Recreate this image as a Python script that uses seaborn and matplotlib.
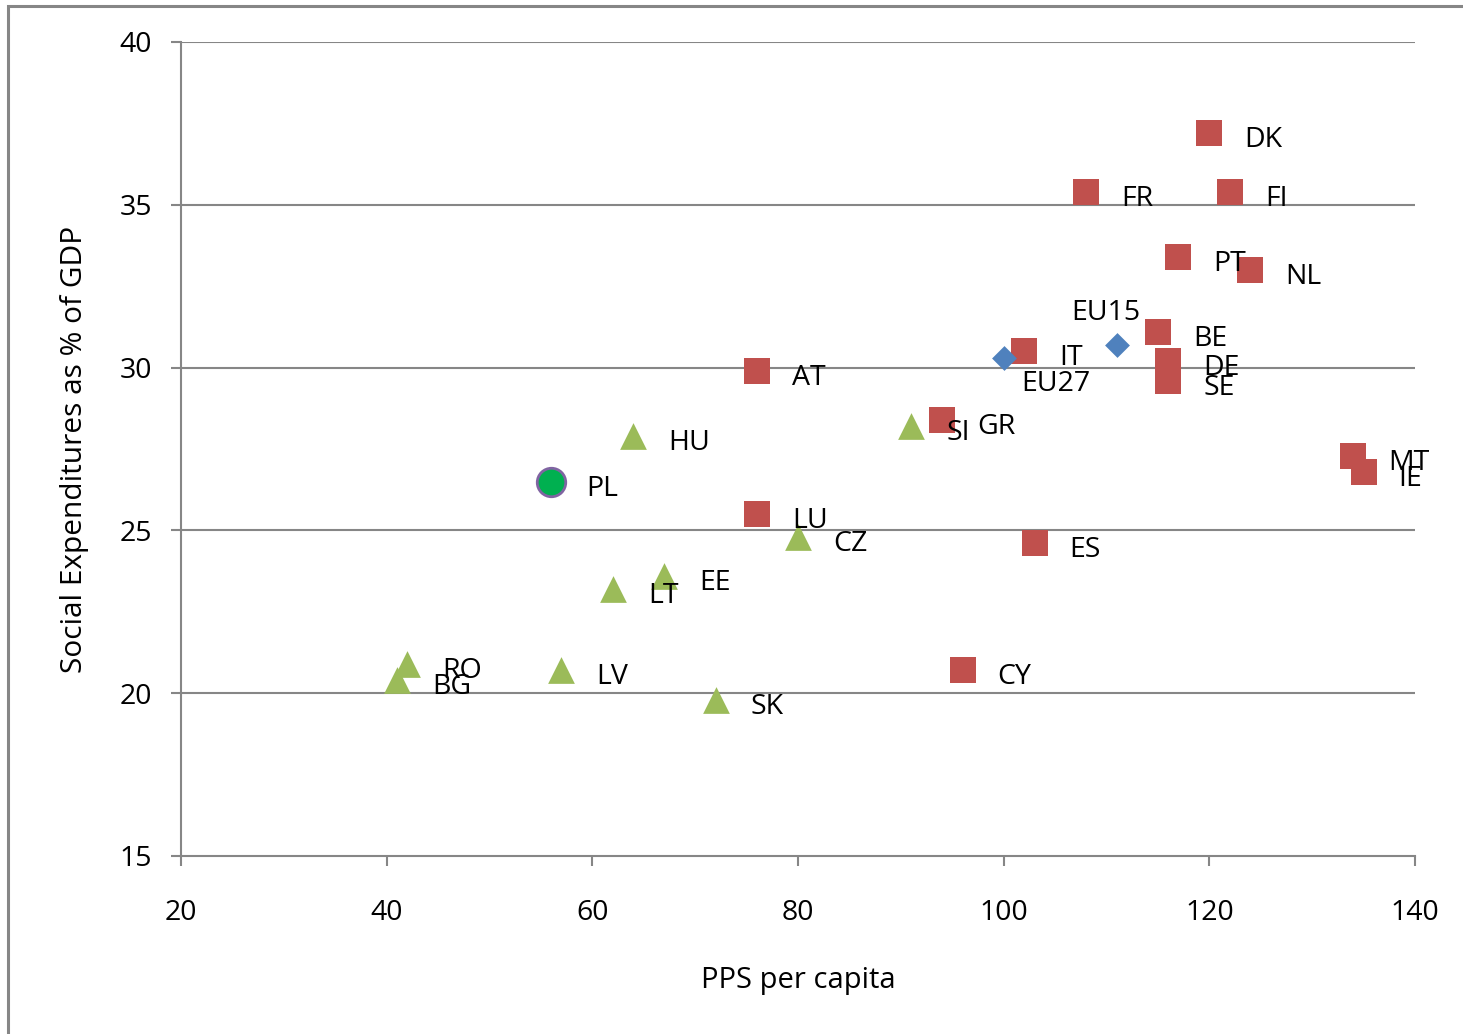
import matplotlib
matplotlib.use("Agg")
import matplotlib.pyplot as plt
import seaborn as sns
import pandas as pd
from matplotlib.patches import Rectangle

# ---- data ----
sq_names = ["DK", "FR", "FI", "PT", "NL", "BE", "IT", "DE", "SE", "AT", "GR", "LU", "ES", "CY", "MT", "IE"]
sq_x = [120, 108, 122, 117, 124, 115, 102, 116, 116, 76, 94, 76, 103, 96, 134, 135]
sq_y = [37.2, 35.4, 35.4, 33.4, 33.0, 31.1, 30.5, 30.2, 29.6, 29.9, 28.4, 25.5, 24.6, 20.7, 27.3, 26.8]

tri_names = ["HU", "SI", "CZ", "EE", "LT", "RO", "BG", "LV", "SK"]
tri_x = [64, 91, 80, 67, 62, 42, 41, 57, 72]
tri_y = [27.9, 28.2, 24.8, 23.6, 23.2, 20.9, 20.4, 20.7, 19.8]

dia_names = ["EU27", "EU15"]
dia_x = [100, 111]
dia_y = [30.3, 30.7]

pl_names = ["PL"]
pl_x = [56]
pl_y = [26.5]

x_ticks = [20, 40, 60, 80, 100, 120, 140]
y_ticks = [15, 20, 25, 30, 35, 40]

sns.set_theme(style="white")
plt.rcParams['font.family'] = ['Open Sans', 'DejaVu Sans']

fig = plt.figure(figsize=(14.63, 10.34), dpi=100)
ax = fig.add_axes([181/1463, 1-856/1034, (1415-181)/1463, (856-42)/1034])

grid_c = "#868686"
for yv in y_ticks[1:]:
    ax.axhline(yv, color=grid_c, lw=1.5, zorder=0)

df_sq = pd.DataFrame({"x": sq_x, "y": sq_y})
df_tri = pd.DataFrame({"x": tri_x, "y": tri_y})
df_dia = pd.DataFrame({"x": dia_x, "y": dia_y})
df_pl = pd.DataFrame({"x": pl_x, "y": pl_y})

sns.scatterplot(data=df_sq, x="x", y="y", ax=ax, marker="s", s=340, color="#C0504D",
                edgecolor="#C0504D", linewidth=0, zorder=3)
sns.scatterplot(data=df_tri, x="x", y="y", ax=ax, marker="^", s=370, color="#9BBB59",
                edgecolor="#9BBB59", linewidth=0, zorder=3)
sns.scatterplot(data=df_dia, x="x", y="y", ax=ax, marker="D", s=160, color="#4F81BD",
                edgecolor="#4F81BD", linewidth=0, zorder=3)
sns.scatterplot(data=df_pl, x="x", y="y", ax=ax, marker="o", s=420, color="#00B050",
                edgecolor="#8064A2", linewidth=2, zorder=4)

fs = 20.5
special = {"EU15": ((-11, 32), "center"), "EU27": ((18, -26), "left")}
for names, xs, ys in [(sq_names, sq_x, sq_y), (tri_names, tri_x, tri_y),
                      (dia_names, dia_x, dia_y), (pl_names, pl_x, pl_y)]:
    for n, xv, yv in zip(names, xs, ys):
        off, ha = special.get(n, ((35, -7), "left"))
        ax.annotate(n, (xv, yv), xytext=off, textcoords="offset pixels",
                    ha=ha, va="center", fontsize=fs, color="black", zorder=5)

ax.set_xlim(20, 140)
ax.set_ylim(15, 40)
ax.set_xticks(x_ticks)
ax.set_yticks(y_ticks)
ax.tick_params(axis="both", which="both", direction="out", length=7, width=1.5,
               color=grid_c, labelsize=fs, labelcolor="black", left=True, bottom=True)
ax.tick_params(axis="x", pad=24)
ax.tick_params(axis="y", pad=14)
for side in ["top", "right"]:
    ax.spines[side].set_visible(False)
for side in ["left", "bottom"]:
    ax.spines[side].set_color(grid_c)
    ax.spines[side].set_linewidth(1.5)

ax.set_xlabel("PPS per capita", fontsize=fs + 0.5, color="black", labelpad=28)
ax.set_ylabel("Social Expenditures as % of GDP", fontsize=fs + 1, color="black", labelpad=22)

# outer chart-area border
fig.patches.append(Rectangle((8/1463, -0.05), 1.2, 1 - 6/1034 + 0.05,
                             transform=fig.transFigure, fill=False,
                             edgecolor=grid_c, lw=2.2, zorder=0))

fig.savefig("out.png", dpi=100)
